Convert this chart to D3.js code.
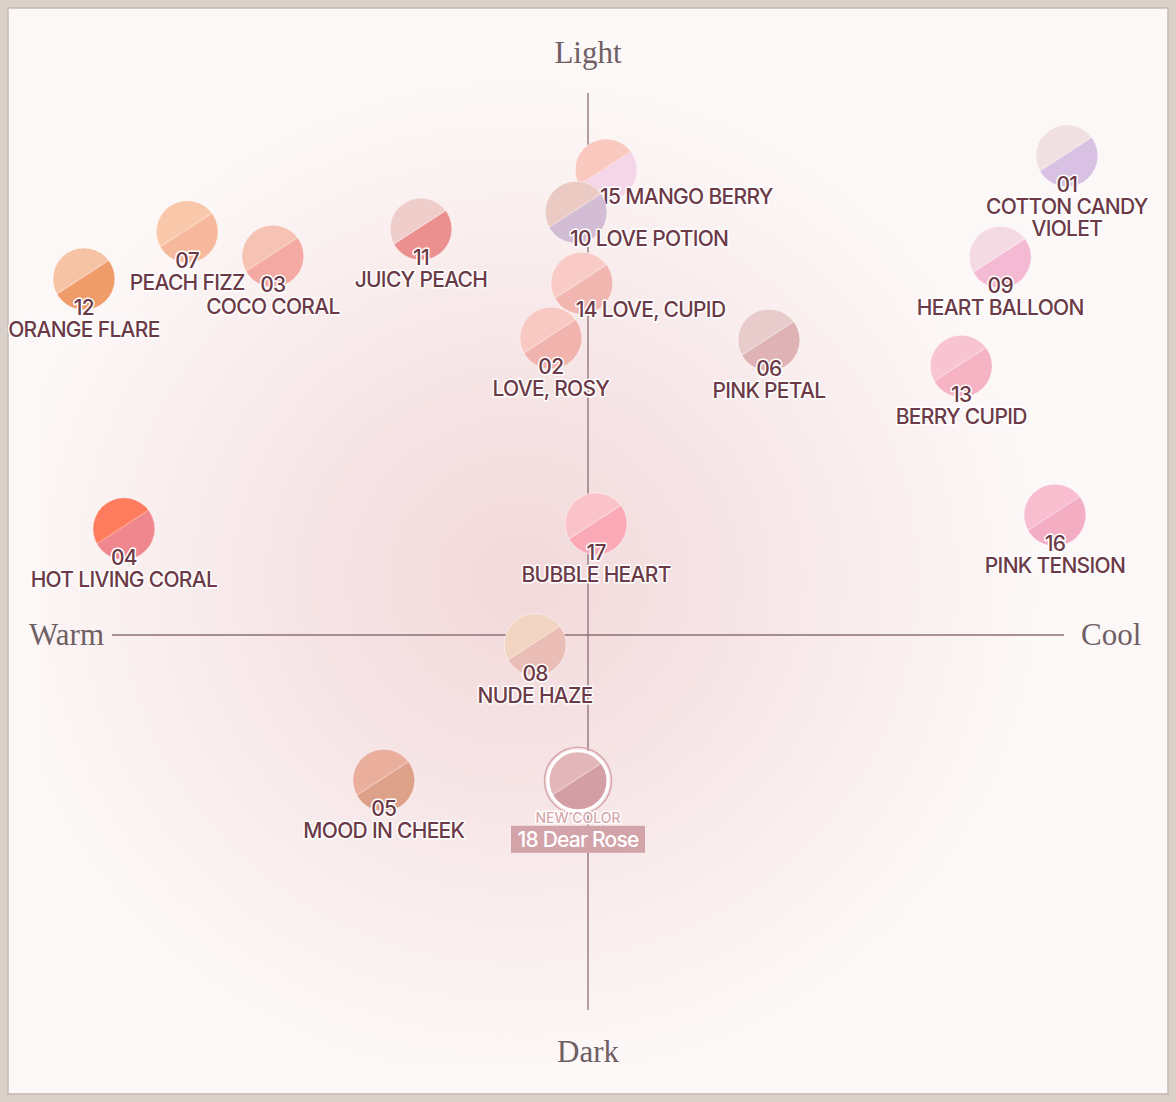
<!DOCTYPE html>
<html>
<head>
<meta charset="utf-8">
<script src="https://cdn.jsdelivr.net/npm/d3@7"></script>
<style>
  html, body { margin: 0; padding: 0; background: #d9d0c9; }
  #MyGraph { display: block; }
  .shade-label { font-family: Inter, "Noto Sans", sans-serif; font-weight: 500; fill: #6c3a47;
    stroke: #ffffff; stroke-width: 3px; paint-order: stroke; stroke-linejoin: round; letter-spacing: -0.7px; }
  .axis-word { font-family: "Liberation Serif", "DejaVu Serif", serif; fill: #6f5f64; }
</style>
</head>
<body>
<svg id="MyGraph" width="1176" height="1102"></svg>
<script>
// shade data
var shadeNos   = ["01","15","10","07","11","03","12","14","09","06","02","13","04","17","16","08","05","18"];
var shadeNames = ["COTTON CANDY|VIOLET","MANGO BERRY","LOVE POTION","PEACH FIZZ","JUICY PEACH","COCO CORAL",
                  "ORANGE FLARE","LOVE, CUPID","HEART BALLOON","PINK PETAL","LOVE, ROSY","BERRY CUPID",
                  "HOT LIVING CORAL","BUBBLE HEART","PINK TENSION","NUDE HAZE","MOOD IN CHEEK","Dear Rose"];
// warm(-) <-> cool(+)
var warmCool   = [10.06, 0.38, -0.25, -8.42, -3.51, -6.62, -10.59, -0.13, 8.66, 3.80, -0.78, 7.84, -9.75, 0.17, 9.81, -1.11, -4.29, -0.21];
// dark(-) <-> light(+)
var lightDark  = [8.84, 8.58, 7.80, 7.44, 7.49, 6.99, 6.57, 6.49, 6.97, 5.44, 5.48, 4.96, 1.96, 2.05, 2.21, -0.18, -2.68, -2.69];
var colorA     = ["#f1e0e1","#f9c9bf","#ebcac4","#f9c7aa","#efcdcb","#f5c2b3","#f6c3a5","#f8cbc6","#f4dbe3","#e8cbcb",
                  "#f8c9c3","#f8c4d1","#ff7b5d","#fac3ca","#f8bdcf","#f2d4c2","#eaae9d","#e3b7ba"];
var colorB     = ["#d8c1e3","#f5d5e8","#d3bdd4","#f7b99d","#ec8f8f","#f4aaa2","#ef9b6a","#f2b6b1","#f4b9d3","#dfb2b5",
                  "#f1b3ad","#f6b3c4","#f0878f","#f9aab6","#f3aec4","#eabdb6","#dda189","#d49fa4"];
var rightLabeled = ["15","10","14"];
var newShade = "18";

var shades = shadeNos.map(function(no, i){
  return {no: no, name: shadeNames[i], x: warmCool[i], y: lightDark[i], c1: colorA[i], c2: colorB[i]};
});

var svg = d3.select("#MyGraph");
var defs = svg.append("defs");

// panel background + soft pink glow
var glow = defs.append("radialGradient").attr("id", "glow")
    .attr("cx", 0.46).attr("cy", 0.52).attr("r", 0.5);
glow.append("stop").attr("offset", "0%").attr("stop-color", "#f2d9db");
glow.append("stop").attr("offset", "40%").attr("stop-color", "#f6e4e5");
glow.append("stop").attr("offset", "100%").attr("stop-color", "#fdf8f8");

svg.append("rect").attr("x", 8).attr("y", 8).attr("width", 1160).attr("height", 1086)
    .attr("fill", "#fdf8f8").attr("stroke", "#c7b6b2").attr("stroke-width", 1.5);
svg.append("rect").attr("x", 40).attr("y", 60).attr("width", 1040).attr("height", 1000)
    .attr("fill", "url(#glow)");

// scales
var x_scale = d3.scaleLinear().domain([-10, 10]).range([112, 1064]);
var y_scale = d3.scaleLinear().domain([-10, 10]).range([1177, 93]);

// axes
svg.append("line")
    .attr("x1", x_scale(-10)).attr("x2", x_scale(10))
    .attr("y1", y_scale(0)).attr("y2", y_scale(0))
    .attr("stroke", "#8c6f75").attr("stroke-width", 1.3);
svg.append("line")
    .attr("x1", x_scale(0)).attr("x2", x_scale(0))
    .attr("y1", y_scale(10)).attr("y2", y_scale(-6.92))
    .attr("stroke", "#8c6f75").attr("stroke-width", 1.3);

svg.append("text").attr("class", "axis-word").attr("x", x_scale(0)).attr("y", y_scale(10) - 30)
    .attr("text-anchor", "middle").attr("font-size", 31).text("Light");
svg.append("text").attr("class", "axis-word").attr("x", x_scale(0)).attr("y", y_scale(-6.92) + 52)
    .attr("text-anchor", "middle").attr("font-size", 31).text("Dark");
svg.append("text").attr("class", "axis-word").attr("x", x_scale(-10) - 8).attr("y", y_scale(0) + 10)
    .attr("text-anchor", "end").attr("font-size", 31).text("Warm");
svg.append("text").attr("class", "axis-word").attr("x", x_scale(10) + 17).attr("y", y_scale(0) + 10)
    .attr("text-anchor", "start").attr("font-size", 31).text("Cool");

// two-tone gradient per shade
shades.forEach(function(d){
  var g = defs.append("linearGradient").attr("id", "g" + d.no)
      .attr("x1", 0.1).attr("y1", 0).attr("x2", 0.75).attr("y2", 1);
  g.append("stop").attr("offset", "0%").attr("stop-color", d.c1);
  g.append("stop").attr("offset", "49%").attr("stop-color", d.c1);
  g.append("stop").attr("offset", "50.5%").attr("stop-color", d3.interpolateRgb(d.c1, "#ffffff")(0.35));
  g.append("stop").attr("offset", "52%").attr("stop-color", d.c2);
  g.append("stop").attr("offset", "100%").attr("stop-color", d.c2);
});

var R = 31;
var dots = svg.selectAll("g.shade")
    .data(shades)
    .enter()
    .append("g")
    .attr("class", "shade")
    .attr("transform", function(d){ return "translate(" + x_scale(d.x) + "," + y_scale(d.y) + ")"; });

// outer ring for new color
dots.filter(function(d){ return d.no == newShade; })
    .append("circle").attr("r", R + 2.5)
    .attr("fill", "none").attr("stroke", "#d7a8ae").attr("stroke-width", 1.5);

dots.append("circle")
    .attr("r", function(d){ return d.no == newShade ? R - 1 : R; })
    .attr("fill", function(d){ return "url(#g" + d.no + ")"; })
    .attr("stroke", function(d){ return d.no == newShade ? "#ffffff" : "rgba(255,255,255,0.45)"; })
    .attr("stroke-width", function(d){ return d.no == newShade ? 3 : 1; });

// labels under the dot
dots.filter(function(d){ return rightLabeled.indexOf(d.no) < 0 && d.no != newShade; })
    .each(function(d){
      var g = d3.select(this);
      g.append("text").attr("class", "shade-label").attr("text-anchor", "middle")
          .attr("y", 36).attr("font-size", 21).text(d.no);
      d.name.split("|").forEach(function(line, i){
        g.append("text").attr("class", "shade-label").attr("text-anchor", "middle")
            .attr("y", 58 + i * 22).attr("font-size", 21).text(line);
      });
    });

// labels to the right of the dot
dots.filter(function(d){ return rightLabeled.indexOf(d.no) >= 0; })
    .append("text").attr("class", "shade-label")
    .attr("x", -6).attr("y", 34).attr("font-size", 21)
    .text(function(d){ return d.no + " " + d.name; });

// new colour tag
var tag = dots.filter(function(d){ return d.no == newShade; });
tag.append("text").attr("class", "shade-label").attr("text-anchor", "middle")
    .attr("y", 42).attr("font-size", 14).attr("font-weight", 600)
    .style("fill", "#d7a7ad").style("letter-spacing", "0px")
    .text("NEW COLOR");
tag.append("rect").attr("x", -67).attr("y", 45).attr("width", 134).attr("height", 27)
    .attr("fill", "#d3a3aa");
tag.append("text").attr("text-anchor", "middle").attr("y", 66)
    .attr("font-family", "Inter, 'Noto Sans', sans-serif").attr("font-weight", 500)
    .attr("font-size", 21).attr("letter-spacing", "-0.8px").attr("fill", "#ffffff")
    .text(function(d){ return d.no + " " + d.name; });
</script>
</body>
</html>
